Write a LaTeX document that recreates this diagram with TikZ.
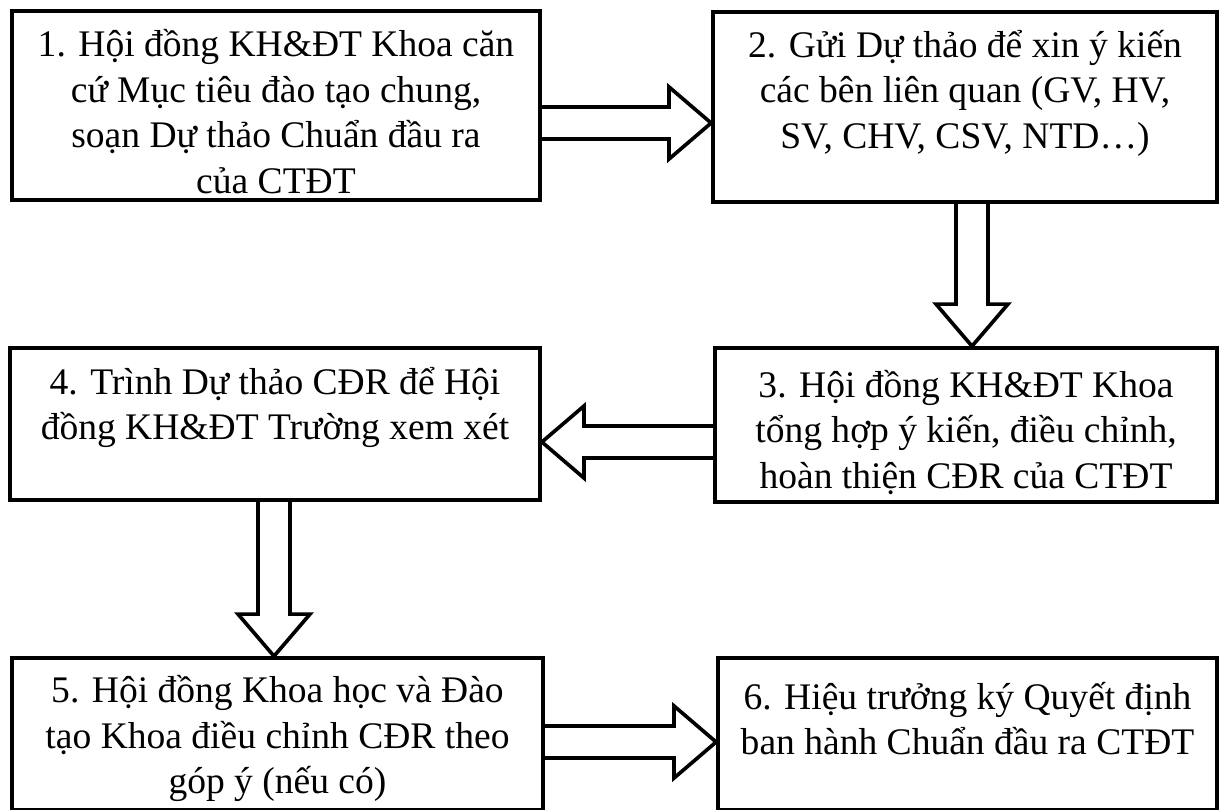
\documentclass[tikz,border=0pt]{standalone}
\usepackage{fontspec}
\setmainfont{Liberation Serif}
\usetikzlibrary{calc}

\tikzset{
  box/.style={draw, line width=2.6pt, inner sep=0pt},
  fat/.style={draw, line width=2.6pt, line join=miter},
  txt/.style={align=center, inner sep=0pt, font=\fontsize{26.7}{32.4}\selectfont}
}

\begin{document}
\begin{tikzpicture}[x=0.025cm, y=-0.025cm]
      % arrow sizes: half shaft, half head, head length
      \def\sw{11.4pt}
      \def\hw{25.6pt}
      \def\hl{29.9pt}

      \useasboundingbox (0,0) rectangle (1220,809);

      % the six steps
      \node[box, minimum width=13.2cm, minimum height=4.725cm] (b1) at (276,105.5) {};
      \node[box, minimum width=12.6cm, minimum height=4.75cm] (b2) at (965,107) {};
      \node[box, minimum width=12.55cm, minimum height=3.85cm] (b3) at (966,425) {};
      \node[box, minimum width=13.25cm, minimum height=3.8cm] (b4) at (275,424) {};
      \node[box, minimum width=13.275cm, minimum height=3.8cm] (b5) at (277.5,734) {};
      \node[box, minimum width=12.475cm, minimum height=3.8cm] (b6) at (967.5,734) {};

      % their texts
      \node[txt] (l1) at (276,111.5) {1. Hội đồng KH\&ĐT Khoa căn\\cứ Mục tiêu đào tạo chung,\\soạn Dự thảo Chuẩn đầu ra\\của CTĐT};
      \node[txt] (l2) at (965,93) {2. Gửi Dự thảo để xin ý kiến\\các bên liên quan (GV, HV,\\SV, CHV, CSV, NTD…)};
      \node[txt] (l3) at (966,432.5) {3. Hội đồng KH\&ĐT Khoa\\tổng hợp ý kiến, điều chỉnh,\\hoàn thiện CĐR của CTĐT};
      \node[txt] (l4) at (275,407.5) {4. Trình Dự thảo CĐR để Hội\\đồng KH\&ĐT Trường xem xét};
      \node[txt] (l5) at (277.5,738.5) {5. Hội đồng Khoa học và Đào\\tạo Khoa điều chỉnh CĐR theo\\góp ý (nếu có)};
      \node[txt] (l6) at (967.5,718.5) {6. Hiệu trưởng ký Quyết định\\ban hành Chuẩn đầu ra CTĐT};

      % 1 -> 2
      \draw[fat] let \p1=(b1.east), \p2=(b2.west), \p3=(0,123) in
        (\x1,\y3+\sw) -- (\x2-\hl,\y3+\sw) -- (\x2-\hl,\y3+\hw) -- (\x2,\y3)
        -- (\x2-\hl,\y3-\hw) -- (\x2-\hl,\y3-\sw) -- (\x1,\y3-\sw);

      % 2 -> 3
      \draw[fat] let \p1=(b2.south), \p2=(b3.north), \p3=(972,0) in
        (\x3-\sw,\y1) -- (\x3-\sw,\y2+\hl) -- (\x3-\hw,\y2+\hl) -- (\x3,\y2)
        -- (\x3+\hw,\y2+\hl) -- (\x3+\sw,\y2+\hl) -- (\x3+\sw,\y1);

      % 3 -> 4
      \draw[fat] let \p1=(b3.west), \p2=(b4.east), \p3=(0,442) in
        (\x1,\y3+\sw) -- (\x2+\hl,\y3+\sw) -- (\x2+\hl,\y3+\hw) -- (\x2,\y3)
        -- (\x2+\hl,\y3-\hw) -- (\x2+\hl,\y3-\sw) -- (\x1,\y3-\sw);

      % 4 -> 5
      \draw[fat] let \p1=(b4.south), \p2=(b5.north), \p3=(274,0) in
        (\x3-\sw,\y1) -- (\x3-\sw,\y2+\hl) -- (\x3-\hw,\y2+\hl) -- (\x3,\y2)
        -- (\x3+\hw,\y2+\hl) -- (\x3+\sw,\y2+\hl) -- (\x3+\sw,\y1);

      % 5 -> 6
      \draw[fat] let \p1=(b5.east), \p2=(b6.west), \p3=(0,742) in
        (\x1,\y3+\sw) -- (\x2-\hl,\y3+\sw) -- (\x2-\hl,\y3+\hw) -- (\x2,\y3)
        -- (\x2-\hl,\y3-\hw) -- (\x2-\hl,\y3-\sw) -- (\x1,\y3-\sw);
\end{tikzpicture}
\end{document}
